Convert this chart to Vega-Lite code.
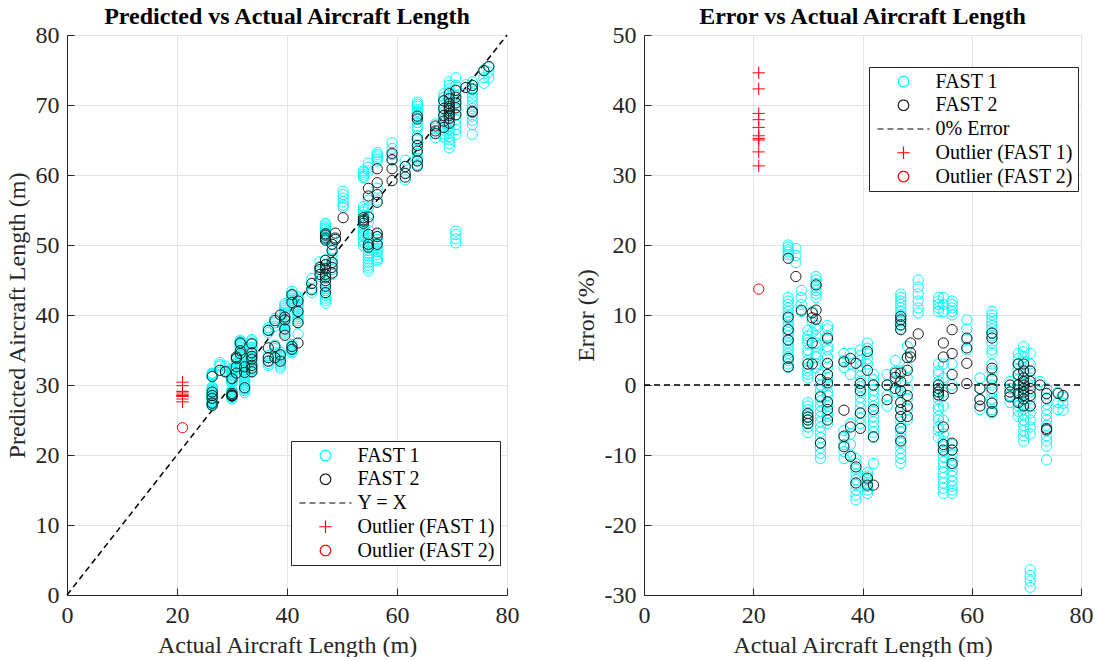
{
"$schema": "https://vega.github.io/schema/vega-lite/v6.json",
"background": "white",
"padding": {"left": 5, "top": 5, "right": 0, "bottom": 0},
"config": {
  "font": "Liberation Serif",
  "view": {"stroke": null},
  "concat": {"spacing": 55},
  "style": {"guide-label": {"font": "Liberation Serif", "fontSize": 24}, "guide-title": {"font": "Liberation Serif", "fontSize": 24}},
  "axis": {"labelFont": "Liberation Serif", "labelFontSize": 24, "labelColor": "#262626", "titleFont": "Liberation Serif", "titleFontSize": 24, "titleFontWeight": "normal", "titleColor": "#262626", "domainColor": "#262626", "tickColor": "#262626", "gridColor": "#e3e3e3", "tickSize": -7, "labelPadding": 15, "titlePadding": 6, "labelFlush": false, "labelOverlap": false, "labelExpr": "replace(datum.label, '\u2212', '-')"},
  "title": {"font": "Liberation Serif", "fontSize": 24, "fontWeight": "bold", "color": "#000000", "anchor": "middle", "offset": -6},
  "legend": {"title": null, "orient": "none", "strokeColor": "#262626", "fillColor": "white", "padding": 4.5, "labelFont": "Liberation Serif", "labelFontSize": 20, "labelColor": "#000000", "symbolSize": 110, "symbolOffset": 20, "labelOffset": 22, "rowPadding": 3.75, "labelLimit": 0, "symbolStrokeWidth": 1.2, "symbolDash": [1, 0]}
},
"datasets": {
  "pts": [
{"a":26.4,"p":31.7,"e":20,"s":"FAST 1"},{"a":26.4,"p":31.5,"e":19.3,"s":"FAST 1"},{"a":26.4,"p":31.3,"e":18.6,"s":"FAST 1"},{"a":26.4,"p":29.7,"e":12.5,"s":"FAST 1"},{"a":26.4,"p":29.4,"e":11.5,"s":"FAST 1"},{"a":26.4,"p":29.2,"e":10.5,"s":"FAST 1"},{"a":26.4,"p":28.9,"e":9.5,"s":"FAST 1"},{"a":26.4,"p":28.6,"e":8.5,"s":"FAST 1"},{"a":26.4,"p":28.4,"e":7.5,"s":"FAST 1"},{"a":26.4,"p":28.1,"e":6.5,"s":"FAST 1"},{"a":26.4,"p":27.9,"e":5.5,"s":"FAST 1"},{"a":26.4,"p":27.6,"e":4.5,"s":"FAST 1"},{"a":26.4,"p":27.3,"e":3.5,"s":"FAST 1"},{"a":26.4,"p":27.1,"e":2.5,"s":"FAST 1"},
{"a":26.4,"p":29.6,"e":12,"s":"FAST 1"},{"a":26.4,"p":29.3,"e":11,"s":"FAST 1"},{"a":26.4,"p":29.0,"e":10,"s":"FAST 1"},{"a":26.4,"p":28.8,"e":9,"s":"FAST 1"},{"a":26.4,"p":28.5,"e":8,"s":"FAST 1"},{"a":26.4,"p":28.2,"e":7,"s":"FAST 1"},{"a":26.4,"p":28.0,"e":6,"s":"FAST 1"},{"a":26.4,"p":27.7,"e":5,"s":"FAST 1"},{"a":26.4,"p":27.5,"e":4,"s":"FAST 1"},{"a":26.4,"p":27.2,"e":3,"s":"FAST 1"},{"a":26.4,"p":31.6,"e":19.7,"s":"FAST 1"},{"a":26.4,"p":31.4,"e":19,"s":"FAST 1"},
{"a":27.8,"p":33.2,"e":19.5,"s":"FAST 1"},{"a":27.8,"p":32.9,"e":18.5,"s":"FAST 1"},{"a":27.8,"p":32.7,"e":17.5,"s":"FAST 1"},
{"a":28.8,"p":32.7,"e":13.5,"s":"FAST 1"},{"a":28.8,"p":32.4,"e":12.5,"s":"FAST 1"},{"a":28.8,"p":32.1,"e":11.5,"s":"FAST 1"},{"a":28.8,"p":31.8,"e":10.5,"s":"FAST 1"},
{"a":30.0,"p":32.3,"e":7.8,"s":"FAST 1"},{"a":30.0,"p":32.0,"e":6.5,"s":"FAST 1"},{"a":30.0,"p":31.5,"e":5,"s":"FAST 1"},{"a":30.0,"p":31.1,"e":3.5,"s":"FAST 1"},{"a":30.0,"p":30.6,"e":2,"s":"FAST 1"},{"a":30.0,"p":30.3,"e":1,"s":"FAST 1"},{"a":30.0,"p":29.3,"e":-2.5,"s":"FAST 1"},{"a":30.0,"p":29.0,"e":-3.5,"s":"FAST 1"},{"a":30.0,"p":28.7,"e":-4.5,"s":"FAST 1"},{"a":30.0,"p":28.4,"e":-5.5,"s":"FAST 1"},{"a":30.0,"p":28.0,"e":-6.8,"s":"FAST 1"},
{"a":30.0,"p":32.1,"e":7,"s":"FAST 1"},{"a":30.0,"p":31.8,"e":6,"s":"FAST 1"},{"a":30.0,"p":31.4,"e":4.5,"s":"FAST 1"},{"a":30.0,"p":30.8,"e":2.5,"s":"FAST 1"},{"a":30.0,"p":30.5,"e":1.5,"s":"FAST 1"},{"a":30.0,"p":29.1,"e":-3,"s":"FAST 1"},{"a":30.0,"p":28.8,"e":-4,"s":"FAST 1"},{"a":30.0,"p":28.5,"e":-5,"s":"FAST 1"},{"a":30.0,"p":28.2,"e":-6,"s":"FAST 1"},
{"a":30.8,"p":34.0,"e":10.5,"s":"FAST 1"},{"a":30.8,"p":33.6,"e":9,"s":"FAST 1"},{"a":30.8,"p":33.1,"e":7.5,"s":"FAST 1"},
{"a":31.5,"p":36.4,"e":15.5,"s":"FAST 1"},{"a":31.5,"p":36.1,"e":14.5,"s":"FAST 1"},{"a":31.5,"p":35.8,"e":13.5,"s":"FAST 1"},{"a":31.5,"p":35.4,"e":12.5,"s":"FAST 1"},{"a":31.5,"p":34.2,"e":8.5,"s":"FAST 1"},{"a":31.5,"p":33.7,"e":7,"s":"FAST 1"},{"a":31.5,"p":33.2,"e":5.5,"s":"FAST 1"},{"a":31.5,"p":32.8,"e":4,"s":"FAST 1"},{"a":31.5,"p":32.3,"e":2.5,"s":"FAST 1"},
{"a":31.5,"p":36.2,"e":15,"s":"FAST 1"},{"a":31.5,"p":35.9,"e":14,"s":"FAST 1"},{"a":31.5,"p":35.6,"e":13,"s":"FAST 1"},{"a":31.5,"p":34.0,"e":8,"s":"FAST 1"},{"a":31.5,"p":33.4,"e":6,"s":"FAST 1"},{"a":31.5,"p":32.9,"e":4.5,"s":"FAST 1"},{"a":31.5,"p":32.4,"e":3,"s":"FAST 1"},
{"a":32.3,"p":32.8,"e":1.5,"s":"FAST 1"},{"a":32.3,"p":32.3,"e":0,"s":"FAST 1"},{"a":32.3,"p":31.8,"e":-1.5,"s":"FAST 1"},{"a":32.3,"p":31.3,"e":-3,"s":"FAST 1"},{"a":32.3,"p":30.8,"e":-4.5,"s":"FAST 1"},{"a":32.3,"p":30.4,"e":-6,"s":"FAST 1"},{"a":32.3,"p":29.9,"e":-7.5,"s":"FAST 1"},{"a":32.3,"p":29.4,"e":-9,"s":"FAST 1"},{"a":32.3,"p":28.9,"e":-10.5,"s":"FAST 1"},
{"a":32.3,"p":32.5,"e":0.75,"s":"FAST 1"},{"a":32.3,"p":32.1,"e":-0.75,"s":"FAST 1"},{"a":32.3,"p":31.6,"e":-2.25,"s":"FAST 1"},{"a":32.3,"p":31.1,"e":-3.75,"s":"FAST 1"},{"a":32.3,"p":30.6,"e":-5.25,"s":"FAST 1"},{"a":32.3,"p":30.1,"e":-6.75,"s":"FAST 1"},{"a":32.3,"p":29.6,"e":-8.25,"s":"FAST 1"},{"a":32.3,"p":29.2,"e":-9.75,"s":"FAST 1"},
{"a":33.6,"p":36.5,"e":8.5,"s":"FAST 1"},{"a":33.6,"p":36.0,"e":7,"s":"FAST 1"},{"a":33.6,"p":35.4,"e":5.5,"s":"FAST 1"},{"a":33.6,"p":34.9,"e":4,"s":"FAST 1"},{"a":33.6,"p":34.4,"e":2.5,"s":"FAST 1"},{"a":33.6,"p":33.9,"e":1,"s":"FAST 1"},{"a":33.6,"p":33.3,"e":-1,"s":"FAST 1"},{"a":33.6,"p":32.8,"e":-2.5,"s":"FAST 1"},{"a":33.6,"p":32.3,"e":-4,"s":"FAST 1"},{"a":33.6,"p":31.8,"e":-5.5,"s":"FAST 1"},
{"a":33.6,"p":36.3,"e":8,"s":"FAST 1"},{"a":33.6,"p":35.8,"e":6.5,"s":"FAST 1"},{"a":33.6,"p":35.3,"e":5,"s":"FAST 1"},{"a":33.6,"p":34.6,"e":3,"s":"FAST 1"},{"a":33.6,"p":34.1,"e":1.5,"s":"FAST 1"},{"a":33.6,"p":33.6,"e":0,"s":"FAST 1"},{"a":33.6,"p":33.1,"e":-1.5,"s":"FAST 1"},{"a":33.6,"p":32.6,"e":-3,"s":"FAST 1"},{"a":33.6,"p":32.1,"e":-4.5,"s":"FAST 1"},
{"a":36.6,"p":38.2,"e":4.5,"s":"FAST 1"},{"a":36.6,"p":37.9,"e":3.5,"s":"FAST 1"},{"a":36.6,"p":37.5,"e":2.5,"s":"FAST 1"},{"a":36.6,"p":34.2,"e":-6.5,"s":"FAST 1"},{"a":36.6,"p":33.9,"e":-7.5,"s":"FAST 1"},{"a":36.6,"p":33.5,"e":-8.5,"s":"FAST 1"},{"a":36.6,"p":33.1,"e":-9.5,"s":"FAST 1"},{"a":36.6,"p":32.8,"e":-10.5,"s":"FAST 1"},
{"a":37.8,"p":39.5,"e":4.5,"s":"FAST 1"},{"a":37.8,"p":38.9,"e":3,"s":"FAST 1"},{"a":37.8,"p":38.4,"e":1.5,"s":"FAST 1"},{"a":37.8,"p":35.7,"e":-5.5,"s":"FAST 1"},{"a":37.8,"p":35.2,"e":-7,"s":"FAST 1"},{"a":37.8,"p":34.6,"e":-8.5,"s":"FAST 1"},{"a":37.8,"p":34.0,"e":-10,"s":"FAST 1"},
{"a":38.8,"p":34.7,"e":-10.5,"s":"FAST 1"},{"a":38.8,"p":34.1,"e":-12,"s":"FAST 1"},{"a":38.8,"p":33.6,"e":-13.5,"s":"FAST 1"},{"a":38.8,"p":33.0,"e":-15,"s":"FAST 1"},{"a":38.8,"p":32.4,"e":-16.4,"s":"FAST 1"},
{"a":38.8,"p":34.4,"e":-11.25,"s":"FAST 1"},{"a":38.8,"p":33.9,"e":-12.75,"s":"FAST 1"},{"a":38.8,"p":33.3,"e":-14.25,"s":"FAST 1"},{"a":38.8,"p":32.7,"e":-15.75,"s":"FAST 1"},
{"a":39.6,"p":41.6,"e":5,"s":"FAST 1"},{"a":39.6,"p":41.0,"e":3.5,"s":"FAST 1"},{"a":39.6,"p":40.4,"e":2,"s":"FAST 1"},{"a":39.6,"p":39.8,"e":0.5,"s":"FAST 1"},{"a":39.6,"p":39.2,"e":-1,"s":"FAST 1"},{"a":39.6,"p":38.6,"e":-2.5,"s":"FAST 1"},{"a":39.6,"p":38.0,"e":-4,"s":"FAST 1"},{"a":39.6,"p":37.4,"e":-5.5,"s":"FAST 1"},
{"a":39.6,"p":41.3,"e":4.25,"s":"FAST 1"},{"a":39.6,"p":40.7,"e":2.75,"s":"FAST 1"},{"a":39.6,"p":40.1,"e":1.25,"s":"FAST 1"},{"a":39.6,"p":39.5,"e":-0.25,"s":"FAST 1"},{"a":39.6,"p":38.9,"e":-1.75,"s":"FAST 1"},{"a":39.6,"p":38.3,"e":-3.25,"s":"FAST 1"},{"a":39.6,"p":37.7,"e":-4.75,"s":"FAST 1"},
{"a":40.9,"p":43.4,"e":6,"s":"FAST 1"},{"a":40.9,"p":42.7,"e":4.5,"s":"FAST 1"},{"a":40.9,"p":42.1,"e":3,"s":"FAST 1"},{"a":40.9,"p":35.8,"e":-12.5,"s":"FAST 1"},{"a":40.9,"p":35.4,"e":-13.5,"s":"FAST 1"},{"a":40.9,"p":35.0,"e":-14.5,"s":"FAST 1"},{"a":40.9,"p":34.6,"e":-15.5,"s":"FAST 1"},
{"a":40.9,"p":35.6,"e":-13,"s":"FAST 1"},{"a":40.9,"p":35.2,"e":-14,"s":"FAST 1"},{"a":40.9,"p":34.8,"e":-15,"s":"FAST 1"},{"a":40.9,"p":43.0,"e":5.25,"s":"FAST 1"},{"a":40.9,"p":42.4,"e":3.75,"s":"FAST 1"},
{"a":42.0,"p":42.6,"e":1.5,"s":"FAST 1"},{"a":42.0,"p":42.0,"e":0,"s":"FAST 1"},{"a":42.0,"p":41.4,"e":-1.5,"s":"FAST 1"},{"a":42.0,"p":40.7,"e":-3,"s":"FAST 1"},{"a":42.0,"p":40.1,"e":-4.5,"s":"FAST 1"},{"a":42.0,"p":39.5,"e":-6,"s":"FAST 1"},{"a":42.0,"p":38.9,"e":-7.5,"s":"FAST 1"},{"a":42.0,"p":37.3,"e":-11.2,"s":"FAST 1"},
{"a":42.0,"p":42.3,"e":0.75,"s":"FAST 1"},{"a":42.0,"p":41.7,"e":-0.75,"s":"FAST 1"},{"a":42.0,"p":41.1,"e":-2.25,"s":"FAST 1"},{"a":42.0,"p":40.4,"e":-3.75,"s":"FAST 1"},{"a":42.0,"p":39.8,"e":-5.25,"s":"FAST 1"},{"a":42.0,"p":39.2,"e":-6.75,"s":"FAST 1"},
{"a":44.5,"p":45.2,"e":1.5,"s":"FAST 1"},{"a":44.5,"p":44.5,"e":0,"s":"FAST 1"},{"a":44.5,"p":43.8,"e":-1.5,"s":"FAST 1"},{"a":44.5,"p":43.2,"e":-3,"s":"FAST 1"},
{"a":46.0,"p":47.6,"e":3.5,"s":"FAST 1"},{"a":46.0,"p":46.9,"e":2,"s":"FAST 1"},{"a":46.0,"p":46.2,"e":0.5,"s":"FAST 1"},{"a":46.0,"p":45.5,"e":-1,"s":"FAST 1"},
{"a":47.0,"p":53.1,"e":13,"s":"FAST 1"},{"a":47.0,"p":52.6,"e":12,"s":"FAST 1"},{"a":47.0,"p":52.2,"e":11,"s":"FAST 1"},{"a":47.0,"p":51.7,"e":10,"s":"FAST 1"},{"a":47.0,"p":51.2,"e":9,"s":"FAST 1"},{"a":47.0,"p":50.8,"e":8,"s":"FAST 1"},{"a":47.0,"p":44.9,"e":-4.5,"s":"FAST 1"},{"a":47.0,"p":44.2,"e":-6,"s":"FAST 1"},{"a":47.0,"p":43.5,"e":-7.5,"s":"FAST 1"},{"a":47.0,"p":42.8,"e":-9,"s":"FAST 1"},{"a":47.0,"p":42.1,"e":-10.5,"s":"FAST 1"},{"a":47.0,"p":41.7,"e":-11.2,"s":"FAST 1"},
{"a":47.0,"p":52.9,"e":12.5,"s":"FAST 1"},{"a":47.0,"p":52.4,"e":11.5,"s":"FAST 1"},{"a":47.0,"p":51.9,"e":10.5,"s":"FAST 1"},{"a":47.0,"p":51.5,"e":9.5,"s":"FAST 1"},{"a":47.0,"p":51.0,"e":8.5,"s":"FAST 1"},{"a":47.0,"p":44.5,"e":-5.25,"s":"FAST 1"},{"a":47.0,"p":43.8,"e":-6.75,"s":"FAST 1"},{"a":47.0,"p":43.1,"e":-8.25,"s":"FAST 1"},{"a":47.0,"p":42.4,"e":-9.75,"s":"FAST 1"},{"a":47.0,"p":47.9,"e":2,"s":"FAST 1"},{"a":47.0,"p":47.2,"e":0.5,"s":"FAST 1"},{"a":47.0,"p":46.5,"e":-1,"s":"FAST 1"},{"a":47.0,"p":45.8,"e":-2.5,"s":"FAST 1"},{"a":47.0,"p":45.4,"e":-3.5,"s":"FAST 1"},
{"a":48.2,"p":50.9,"e":5.5,"s":"FAST 1"},{"a":48.2,"p":50.1,"e":4,"s":"FAST 1"},{"a":48.2,"p":49.4,"e":2.5,"s":"FAST 1"},{"a":48.2,"p":48.7,"e":1,"s":"FAST 1"},{"a":48.2,"p":48.0,"e":-0.5,"s":"FAST 1"},{"a":48.2,"p":47.2,"e":-2,"s":"FAST 1"},{"a":48.2,"p":46.5,"e":-3.5,"s":"FAST 1"},{"a":48.2,"p":45.8,"e":-5,"s":"FAST 1"},
{"a":50.2,"p":57.7,"e":15,"s":"FAST 1"},{"a":50.2,"p":57.2,"e":14,"s":"FAST 1"},{"a":50.2,"p":56.7,"e":13,"s":"FAST 1"},{"a":50.2,"p":56.2,"e":12,"s":"FAST 1"},{"a":50.2,"p":55.7,"e":11,"s":"FAST 1"},{"a":50.2,"p":55.4,"e":10.3,"s":"FAST 1"},
{"a":53.9,"p":60.6,"e":12.5,"s":"FAST 1"},{"a":53.9,"p":60.1,"e":11.5,"s":"FAST 1"},{"a":53.9,"p":59.6,"e":10.5,"s":"FAST 1"},{"a":53.9,"p":55.5,"e":3,"s":"FAST 1"},{"a":53.9,"p":54.7,"e":1.5,"s":"FAST 1"},{"a":53.9,"p":53.9,"e":0,"s":"FAST 1"},{"a":53.9,"p":53.1,"e":-1.5,"s":"FAST 1"},{"a":53.9,"p":52.3,"e":-3,"s":"FAST 1"},{"a":53.9,"p":51.5,"e":-4.5,"s":"FAST 1"},{"a":53.9,"p":50.7,"e":-6,"s":"FAST 1"},{"a":53.9,"p":49.9,"e":-7.5,"s":"FAST 1"},
{"a":53.9,"p":60.4,"e":12,"s":"FAST 1"},{"a":53.9,"p":59.8,"e":11,"s":"FAST 1"},{"a":53.9,"p":55.0,"e":2,"s":"FAST 1"},{"a":53.9,"p":54.2,"e":0.5,"s":"FAST 1"},{"a":53.9,"p":53.4,"e":-1,"s":"FAST 1"},{"a":53.9,"p":52.8,"e":-2,"s":"FAST 1"},{"a":53.9,"p":52.0,"e":-3.5,"s":"FAST 1"},{"a":53.9,"p":51.2,"e":-5,"s":"FAST 1"},{"a":53.9,"p":50.4,"e":-6.5,"s":"FAST 1"},
{"a":54.8,"p":61.7,"e":12.5,"s":"FAST 1"},{"a":54.8,"p":61.1,"e":11.5,"s":"FAST 1"},{"a":54.8,"p":60.6,"e":10.5,"s":"FAST 1"},{"a":54.8,"p":50.4,"e":-8,"s":"FAST 1"},{"a":54.8,"p":49.6,"e":-9.5,"s":"FAST 1"},{"a":54.8,"p":48.8,"e":-11,"s":"FAST 1"},{"a":54.8,"p":48.0,"e":-12.5,"s":"FAST 1"},{"a":54.8,"p":47.1,"e":-14,"s":"FAST 1"},{"a":54.8,"p":46.3,"e":-15.5,"s":"FAST 1"},
{"a":54.8,"p":50.0,"e":-8.75,"s":"FAST 1"},{"a":54.8,"p":49.2,"e":-10.25,"s":"FAST 1"},{"a":54.8,"p":48.4,"e":-11.75,"s":"FAST 1"},{"a":54.8,"p":47.5,"e":-13.25,"s":"FAST 1"},{"a":54.8,"p":46.7,"e":-14.75,"s":"FAST 1"},{"a":54.8,"p":56.4,"e":3,"s":"FAST 1"},{"a":54.8,"p":55.3,"e":1,"s":"FAST 1"},{"a":54.8,"p":54.3,"e":-1,"s":"FAST 1"},{"a":54.8,"p":53.2,"e":-3,"s":"FAST 1"},{"a":54.8,"p":52.1,"e":-5,"s":"FAST 1"},{"a":54.8,"p":51.0,"e":-7,"s":"FAST 1"},
{"a":56.4,"p":63.2,"e":12,"s":"FAST 1"},{"a":56.4,"p":62.6,"e":11,"s":"FAST 1"},{"a":56.4,"p":62.0,"e":10,"s":"FAST 1"},{"a":56.4,"p":51.6,"e":-8.5,"s":"FAST 1"},{"a":56.4,"p":50.8,"e":-10,"s":"FAST 1"},{"a":56.4,"p":49.9,"e":-11.5,"s":"FAST 1"},{"a":56.4,"p":49.1,"e":-13,"s":"FAST 1"},{"a":56.4,"p":48.2,"e":-14.5,"s":"FAST 1"},{"a":56.4,"p":47.7,"e":-15.5,"s":"FAST 1"},
{"a":56.4,"p":51.2,"e":-9.25,"s":"FAST 1"},{"a":56.4,"p":50.3,"e":-10.75,"s":"FAST 1"},{"a":56.4,"p":49.5,"e":-12.25,"s":"FAST 1"},{"a":56.4,"p":48.6,"e":-13.75,"s":"FAST 1"},{"a":56.4,"p":47.9,"e":-15,"s":"FAST 1"},{"a":56.4,"p":62.9,"e":11.5,"s":"FAST 1"},{"a":56.4,"p":62.3,"e":10.5,"s":"FAST 1"},{"a":56.4,"p":58.1,"e":3,"s":"FAST 1"},{"a":56.4,"p":56.4,"e":0,"s":"FAST 1"},
{"a":59.1,"p":64.6,"e":9.3,"s":"FAST 1"},{"a":59.1,"p":63.8,"e":8,"s":"FAST 1"},{"a":59.1,"p":62.9,"e":6.5,"s":"FAST 1"},{"a":59.1,"p":62.1,"e":5,"s":"FAST 1"},
{"a":61.5,"p":62.1,"e":1,"s":"FAST 1"},{"a":61.5,"p":61.2,"e":-0.5,"s":"FAST 1"},{"a":61.5,"p":60.3,"e":-2,"s":"FAST 1"},{"a":61.5,"p":59.3,"e":-3.5,"s":"FAST 1"},
{"a":63.7,"p":70.4,"e":10.5,"s":"FAST 1"},{"a":63.7,"p":69.8,"e":9.5,"s":"FAST 1"},{"a":63.7,"p":69.1,"e":8.5,"s":"FAST 1"},{"a":63.7,"p":68.5,"e":7.5,"s":"FAST 1"},{"a":63.7,"p":67.5,"e":6,"s":"FAST 1"},{"a":63.7,"p":66.6,"e":4.5,"s":"FAST 1"},{"a":63.7,"p":65.6,"e":3,"s":"FAST 1"},{"a":63.7,"p":64.3,"e":1,"s":"FAST 1"},{"a":63.7,"p":63.1,"e":-1,"s":"FAST 1"},{"a":63.7,"p":62.1,"e":-2.5,"s":"FAST 1"},{"a":63.7,"p":61.2,"e":-4,"s":"FAST 1"},
{"a":63.7,"p":70.1,"e":10,"s":"FAST 1"},{"a":63.7,"p":69.4,"e":9,"s":"FAST 1"},{"a":63.7,"p":68.8,"e":8,"s":"FAST 1"},{"a":63.7,"p":68.2,"e":7,"s":"FAST 1"},{"a":63.7,"p":66.9,"e":5,"s":"FAST 1"},{"a":63.7,"p":65.0,"e":2,"s":"FAST 1"},{"a":63.7,"p":63.7,"e":0,"s":"FAST 1"},{"a":63.7,"p":62.4,"e":-2,"s":"FAST 1"},{"a":63.7,"p":61.5,"e":-3.5,"s":"FAST 1"},
{"a":67.0,"p":67.3,"e":0.5,"s":"FAST 1"},{"a":67.0,"p":66.7,"e":-0.5,"s":"FAST 1"},{"a":67.0,"p":66.0,"e":-1.5,"s":"FAST 1"},{"a":67.0,"p":65.3,"e":-2.5,"s":"FAST 1"},
{"a":68.5,"p":71.6,"e":4.5,"s":"FAST 1"},{"a":68.5,"p":70.6,"e":3,"s":"FAST 1"},{"a":68.5,"p":69.5,"e":1.5,"s":"FAST 1"},{"a":68.5,"p":68.5,"e":0,"s":"FAST 1"},{"a":68.5,"p":67.5,"e":-1.5,"s":"FAST 1"},{"a":68.5,"p":66.4,"e":-3,"s":"FAST 1"},{"a":68.5,"p":65.4,"e":-4.5,"s":"FAST 1"},
{"a":68.5,"p":71.1,"e":3.75,"s":"FAST 1"},{"a":68.5,"p":70.0,"e":2.25,"s":"FAST 1"},{"a":68.5,"p":69.0,"e":0.75,"s":"FAST 1"},{"a":68.5,"p":68.0,"e":-0.75,"s":"FAST 1"},{"a":68.5,"p":67.0,"e":-2.25,"s":"FAST 1"},{"a":68.5,"p":65.9,"e":-3.75,"s":"FAST 1"},
{"a":69.5,"p":73.3,"e":5.5,"s":"FAST 1"},{"a":69.5,"p":72.3,"e":4,"s":"FAST 1"},{"a":69.5,"p":71.2,"e":2.5,"s":"FAST 1"},{"a":69.5,"p":70.2,"e":1,"s":"FAST 1"},{"a":69.5,"p":69.2,"e":-0.5,"s":"FAST 1"},{"a":69.5,"p":68.1,"e":-2,"s":"FAST 1"},{"a":69.5,"p":67.1,"e":-3.5,"s":"FAST 1"},{"a":69.5,"p":66.0,"e":-5,"s":"FAST 1"},{"a":69.5,"p":65.0,"e":-6.5,"s":"FAST 1"},{"a":69.5,"p":63.9,"e":-8,"s":"FAST 1"},
{"a":69.5,"p":72.8,"e":4.75,"s":"FAST 1"},{"a":69.5,"p":71.8,"e":3.25,"s":"FAST 1"},{"a":69.5,"p":70.7,"e":1.75,"s":"FAST 1"},{"a":69.5,"p":69.7,"e":0.25,"s":"FAST 1"},{"a":69.5,"p":68.6,"e":-1.25,"s":"FAST 1"},{"a":69.5,"p":67.6,"e":-2.75,"s":"FAST 1"},{"a":69.5,"p":66.5,"e":-4.25,"s":"FAST 1"},{"a":69.5,"p":65.5,"e":-5.75,"s":"FAST 1"},{"a":69.5,"p":64.5,"e":-7.25,"s":"FAST 1"},
{"a":70.7,"p":52.0,"e":-26.4,"s":"FAST 1"},{"a":70.7,"p":51.5,"e":-27.2,"s":"FAST 1"},{"a":70.7,"p":50.9,"e":-28,"s":"FAST 1"},{"a":70.7,"p":50.3,"e":-28.9,"s":"FAST 1"},{"a":70.7,"p":73.9,"e":4.5,"s":"FAST 1"},{"a":70.7,"p":72.8,"e":3,"s":"FAST 1"},{"a":70.7,"p":71.4,"e":1,"s":"FAST 1"},{"a":70.7,"p":70.0,"e":-1,"s":"FAST 1"},{"a":70.7,"p":68.6,"e":-3,"s":"FAST 1"},{"a":70.7,"p":67.2,"e":-5,"s":"FAST 1"},{"a":70.7,"p":65.8,"e":-7,"s":"FAST 1"},
{"a":70.7,"p":72.1,"e":2,"s":"FAST 1"},{"a":70.7,"p":70.7,"e":0,"s":"FAST 1"},{"a":70.7,"p":69.3,"e":-2,"s":"FAST 1"},{"a":70.7,"p":67.9,"e":-4,"s":"FAST 1"},{"a":70.7,"p":66.5,"e":-6,"s":"FAST 1"},
{"a":72.5,"p":72.9,"e":0.5,"s":"FAST 1"},
{"a":73.7,"p":73.3,"e":-0.5,"s":"FAST 1"},{"a":73.7,"p":72.2,"e":-2,"s":"FAST 1"},{"a":73.7,"p":71.1,"e":-3.5,"s":"FAST 1"},{"a":73.7,"p":70.0,"e":-5,"s":"FAST 1"},{"a":73.7,"p":68.9,"e":-6.5,"s":"FAST 1"},{"a":73.7,"p":67.8,"e":-8,"s":"FAST 1"},{"a":73.7,"p":65.8,"e":-10.7,"s":"FAST 1"},
{"a":73.7,"p":72.8,"e":-1.25,"s":"FAST 1"},{"a":73.7,"p":71.7,"e":-2.75,"s":"FAST 1"},{"a":73.7,"p":70.6,"e":-4.25,"s":"FAST 1"},{"a":73.7,"p":69.5,"e":-5.75,"s":"FAST 1"},{"a":73.7,"p":68.4,"e":-7.25,"s":"FAST 1"},{"a":73.7,"p":67.2,"e":-8.75,"s":"FAST 1"},
{"a":75.8,"p":75.0,"e":-1,"s":"FAST 1"},{"a":75.8,"p":73.9,"e":-2.5,"s":"FAST 1"},{"a":75.8,"p":73.1,"e":-3.5,"s":"FAST 1"},
{"a":76.7,"p":75.4,"e":-1.7,"s":"FAST 1"},{"a":76.7,"p":74.7,"e":-2.6,"s":"FAST 1"},{"a":76.7,"p":73.9,"e":-3.6,"s":"FAST 1"},
{"a":26.4,"p":31.2,"e":18.1,"s":"FAST 2"},{"a":26.4,"p":29.0,"e":9.7,"s":"FAST 2"},{"a":26.4,"p":28.5,"e":7.9,"s":"FAST 2"},{"a":26.4,"p":28.1,"e":6.4,"s":"FAST 2"},{"a":26.4,"p":27.4,"e":3.8,"s":"FAST 2"},{"a":26.4,"p":27.1,"e":2.6,"s":"FAST 2"},
{"a":27.8,"p":32.1,"e":15.5,"s":"FAST 2"},
{"a":28.8,"p":31.9,"e":10.7,"s":"FAST 2"},
{"a":30.0,"p":30.9,"e":3,"s":"FAST 2"},{"a":30.0,"p":28.8,"e":-4.1,"s":"FAST 2"},{"a":30.0,"p":28.6,"e":-4.6,"s":"FAST 2"},{"a":30.0,"p":28.5,"e":-5,"s":"FAST 2"},{"a":30.0,"p":28.4,"e":-5.5,"s":"FAST 2"},
{"a":30.8,"p":34.0,"e":10.3,"s":"FAST 2"},{"a":30.8,"p":33.8,"e":9.6,"s":"FAST 2"},{"a":30.8,"p":32.6,"e":6,"s":"FAST 2"},{"a":30.8,"p":31.7,"e":3,"s":"FAST 2"},
{"a":31.5,"p":36.0,"e":14.3,"s":"FAST 2"},{"a":31.5,"p":34.5,"e":9.4,"s":"FAST 2"},{"a":31.5,"p":34.9,"e":10.7,"s":"FAST 2"},
{"a":32.3,"p":32.6,"e":0.8,"s":"FAST 2"},{"a":32.3,"p":31.8,"e":-1.7,"s":"FAST 2"},{"a":32.3,"p":29.6,"e":-8.3,"s":"FAST 2"},
{"a":33.6,"p":35.9,"e":6.7,"s":"FAST 2"},{"a":33.6,"p":34.6,"e":3.1,"s":"FAST 2"},{"a":33.6,"p":34.1,"e":1.5,"s":"FAST 2"},{"a":33.6,"p":33.7,"e":0.3,"s":"FAST 2"},{"a":33.6,"p":32.8,"e":-2.4,"s":"FAST 2"},{"a":33.6,"p":32.4,"e":-3.5,"s":"FAST 2"},{"a":33.6,"p":31.9,"e":-5,"s":"FAST 2"},
{"a":36.6,"p":37.8,"e":3.3,"s":"FAST 2"},{"a":36.6,"p":35.3,"e":-3.6,"s":"FAST 2"},{"a":36.6,"p":33.9,"e":-7.3,"s":"FAST 2"},{"a":36.6,"p":33.4,"e":-8.8,"s":"FAST 2"},
{"a":37.8,"p":39.2,"e":3.8,"s":"FAST 2"},{"a":37.8,"p":35.5,"e":-6,"s":"FAST 2"},{"a":37.8,"p":33.9,"e":-10.2,"s":"FAST 2"},
{"a":38.8,"p":40.0,"e":3.1,"s":"FAST 2"},{"a":38.8,"p":34.3,"e":-11.7,"s":"FAST 2"},{"a":38.8,"p":33.4,"e":-14,"s":"FAST 2"},
{"a":39.6,"p":39.7,"e":0.2,"s":"FAST 2"},{"a":39.6,"p":39.3,"e":-0.8,"s":"FAST 2"},{"a":39.6,"p":38.0,"e":-4,"s":"FAST 2"},{"a":39.6,"p":37.1,"e":-6.2,"s":"FAST 2"},
{"a":40.9,"p":42.9,"e":4.8,"s":"FAST 2"},{"a":40.9,"p":41.8,"e":2.1,"s":"FAST 2"},{"a":40.9,"p":35.5,"e":-13.3,"s":"FAST 2"},{"a":40.9,"p":35.1,"e":-14.3,"s":"FAST 2"},
{"a":42.0,"p":42.0,"e":0,"s":"FAST 2"},{"a":42.0,"p":40.5,"e":-3.5,"s":"FAST 2"},{"a":42.0,"p":38.9,"e":-7.4,"s":"FAST 2"},{"a":42.0,"p":36.0,"e":-14.3,"s":"FAST 2"},
{"a":44.5,"p":44.5,"e":0,"s":"FAST 2"},{"a":44.5,"p":43.6,"e":-2.1,"s":"FAST 2"},
{"a":46.0,"p":46.8,"e":1.7,"s":"FAST 2"},{"a":46.0,"p":46.5,"e":1.1,"s":"FAST 2"},{"a":46.0,"p":45.8,"e":-0.5,"s":"FAST 2"},
{"a":47.0,"p":51.6,"e":9.8,"s":"FAST 2"},{"a":47.0,"p":51.4,"e":9.3,"s":"FAST 2"},{"a":47.0,"p":51.0,"e":8.6,"s":"FAST 2"},{"a":47.0,"p":50.7,"e":7.9,"s":"FAST 2"},{"a":47.0,"p":47.8,"e":1.7,"s":"FAST 2"},{"a":47.0,"p":47.2,"e":0.5,"s":"FAST 2"},{"a":47.0,"p":46.6,"e":-0.8,"s":"FAST 2"},{"a":47.0,"p":45.8,"e":-2.5,"s":"FAST 2"},{"a":47.0,"p":45.4,"e":-3.5,"s":"FAST 2"},{"a":47.0,"p":44.9,"e":-4.5,"s":"FAST 2"},{"a":47.0,"p":44.1,"e":-6.2,"s":"FAST 2"},{"a":47.0,"p":43.2,"e":-8,"s":"FAST 2"},
{"a":48.2,"p":50.1,"e":3.9,"s":"FAST 2"},{"a":48.2,"p":49.2,"e":2.1,"s":"FAST 2"},{"a":48.2,"p":47.5,"e":-1.5,"s":"FAST 2"},{"a":48.2,"p":46.8,"e":-3,"s":"FAST 2"},{"a":48.2,"p":46.0,"e":-4.5,"s":"FAST 2"},
{"a":48.8,"p":51.7,"e":6,"s":"FAST 2"},{"a":48.8,"p":51.0,"e":4.6,"s":"FAST 2"},{"a":48.8,"p":50.8,"e":4,"s":"FAST 2"},
{"a":50.2,"p":53.9,"e":7.3,"s":"FAST 2"},
{"a":53.9,"p":53.9,"e":0,"s":"FAST 2"},{"a":53.9,"p":53.6,"e":-0.5,"s":"FAST 2"},{"a":53.9,"p":53.4,"e":-1,"s":"FAST 2"},{"a":53.9,"p":53.1,"e":-1.4,"s":"FAST 2"},
{"a":54.8,"p":58.1,"e":6,"s":"FAST 2"},{"a":54.8,"p":57.0,"e":4,"s":"FAST 2"},{"a":54.8,"p":54.0,"e":-1.5,"s":"FAST 2"},{"a":54.8,"p":51.5,"e":-6,"s":"FAST 2"},{"a":54.8,"p":50.1,"e":-8.5,"s":"FAST 2"},{"a":54.8,"p":49.7,"e":-9.3,"s":"FAST 2"},
{"a":56.4,"p":60.9,"e":7.9,"s":"FAST 2"},{"a":56.4,"p":58.9,"e":4.5,"s":"FAST 2"},{"a":56.4,"p":57.2,"e":1.5,"s":"FAST 2"},{"a":56.4,"p":56.1,"e":-0.5,"s":"FAST 2"},{"a":56.4,"p":51.7,"e":-8.3,"s":"FAST 2"},{"a":56.4,"p":51.2,"e":-9.3,"s":"FAST 2"},{"a":56.4,"p":50.1,"e":-11.2,"s":"FAST 2"},
{"a":59.1,"p":63.1,"e":6.7,"s":"FAST 2"},{"a":59.1,"p":62.2,"e":5.3,"s":"FAST 2"},{"a":59.1,"p":60.9,"e":3.1,"s":"FAST 2"},{"a":59.1,"p":59.2,"e":0.2,"s":"FAST 2"},
{"a":61.5,"p":61.2,"e":-0.5,"s":"FAST 2"},{"a":61.5,"p":60.2,"e":-2.1,"s":"FAST 2"},{"a":61.5,"p":59.7,"e":-3,"s":"FAST 2"},
{"a":63.7,"p":68.4,"e":7.4,"s":"FAST 2"},{"a":63.7,"p":68.0,"e":6.7,"s":"FAST 2"},{"a":63.7,"p":65.2,"e":2.4,"s":"FAST 2"},{"a":63.7,"p":64.2,"e":0.8,"s":"FAST 2"},{"a":63.7,"p":63.4,"e":-0.5,"s":"FAST 2"},{"a":63.7,"p":62.0,"e":-2.6,"s":"FAST 2"},{"a":63.7,"p":61.3,"e":-3.8,"s":"FAST 2"},
{"a":67.0,"p":67.0,"e":0,"s":"FAST 2"},{"a":67.0,"p":66.3,"e":-1,"s":"FAST 2"},{"a":67.0,"p":65.9,"e":-1.7,"s":"FAST 2"},
{"a":68.5,"p":70.6,"e":3,"s":"FAST 2"},{"a":68.5,"p":69.5,"e":1.5,"s":"FAST 2"},{"a":68.5,"p":68.5,"e":0,"s":"FAST 2"},{"a":68.5,"p":67.7,"e":-1.2,"s":"FAST 2"},{"a":68.5,"p":66.8,"e":-2.5,"s":"FAST 2"},
{"a":69.5,"p":71.6,"e":3,"s":"FAST 2"},{"a":69.5,"p":70.9,"e":2,"s":"FAST 2"},{"a":69.5,"p":70.2,"e":1,"s":"FAST 2"},{"a":69.5,"p":69.8,"e":0.5,"s":"FAST 2"},{"a":69.5,"p":69.5,"e":0,"s":"FAST 2"},{"a":69.5,"p":69.2,"e":-0.5,"s":"FAST 2"},{"a":69.5,"p":68.8,"e":-1,"s":"FAST 2"},{"a":69.5,"p":68.5,"e":-1.5,"s":"FAST 2"},{"a":69.5,"p":68.1,"e":-2,"s":"FAST 2"},{"a":69.5,"p":67.4,"e":-3,"s":"FAST 2"},
{"a":70.7,"p":72.1,"e":2,"s":"FAST 2"},{"a":70.7,"p":71.1,"e":0.5,"s":"FAST 2"},{"a":70.7,"p":70.3,"e":-0.5,"s":"FAST 2"},{"a":70.7,"p":69.6,"e":-1.5,"s":"FAST 2"},{"a":70.7,"p":68.6,"e":-3,"s":"FAST 2"},
{"a":72.5,"p":72.5,"e":0,"s":"FAST 2"},
{"a":73.7,"p":72.8,"e":-1.2,"s":"FAST 2"},{"a":73.7,"p":72.3,"e":-1.9,"s":"FAST 2"},{"a":73.7,"p":69.1,"e":-6.2,"s":"FAST 2"},{"a":73.7,"p":69.0,"e":-6.4,"s":"FAST 2"},
{"a":75.8,"p":74.9,"e":-1.2,"s":"FAST 2"},
{"a":76.7,"p":75.5,"e":-1.5,"s":"FAST 2"},
{"a":21.0,"p":30.4,"e":44.6,"s":"Outlier (FAST 1)"},{"a":21.0,"p":29.9,"e":42.3,"s":"Outlier (FAST 1)"},{"a":21.0,"p":29.1,"e":38.8,"s":"Outlier (FAST 1)"},{"a":21.0,"p":29.0,"e":37.9,"s":"Outlier (FAST 1)"},{"a":21.0,"p":28.7,"e":36.8,"s":"Outlier (FAST 1)"},{"a":21.0,"p":28.5,"e":35.6,"s":"Outlier (FAST 1)"},{"a":21.0,"p":28.4,"e":35.2,"s":"Outlier (FAST 1)"},{"a":21.0,"p":28.4,"e":35.0,"s":"Outlier (FAST 1)"},{"a":21.0,"p":28.0,"e":33.3,"s":"Outlier (FAST 1)"},{"a":21.0,"p":27.6,"e":31.3,"s":"Outlier (FAST 1)"},
{"a":21.0,"p":23.9,"e":13.7,"s":"Outlier (FAST 2)"}
  ],
  "l1": [{"a":0,"p":0,"s":"Y = X"},{"a":80,"p":80,"s":"Y = X"}],
  "l2": [{"a":0,"e":0,"s":"0% Error"},{"a":80,"e":0,"s":"0% Error"}]
},
"hconcat": [
  {
    "width": 440, "height": 560,
    "title": "Predicted vs Actual Aircraft Length",
    "layer": [
      {
        "data": {"name": "l1"},
        "mark": {"type": "line", "strokeDash": [6, 4], "strokeWidth": 1.5},
        "encoding": {
          "x": {"field": "a", "type": "quantitative", "scale": {"domain": [0, 80], "nice": false}, "axis": {"values": [0, 20, 40, 60, 80], "title": "Actual Aircraft Length (m)", "labelFont": "Liberation Serif"}},
          "y": {"field": "p", "type": "quantitative", "scale": {"domain": [0, 80], "nice": false}, "axis": {"values": [0, 10, 20, 30, 40, 50, 60, 70, 80], "title": "Predicted Aircraft Length (m)", "labelFont": "Liberation Serif"}},
          "color": {"field": "s", "type": "nominal", "scale": {"domain": ["FAST 1", "FAST 2", "Y = X", "Outlier (FAST 1)", "Outlier (FAST 2)"], "range": ["#00ffff", "#1a1a1a", "#000000", "#ff0000", "#ff0000"]}, "legend": {"legendX": 224, "legendY": 406}}
        }
      },
      {
        "data": {"name": "pts"},
        "mark": {"type": "point", "filled": false, "size": 105, "strokeWidth": 1, "opacity": 1},
        "encoding": {
          "x": {"field": "a", "type": "quantitative"},
          "y": {"field": "p", "type": "quantitative"},
          "shape": {"field": "s", "type": "nominal", "scale": {"domain": ["FAST 1", "FAST 2", "Y = X", "Outlier (FAST 1)", "Outlier (FAST 2)"], "range": ["circle", "circle", "M-4.96,0H-3.82M-3.06,0H-1.92M-1.16,0H-0.02M0.74,0H1.88M2.64,0H3.78M4.54,0H4.96", "M-1.2,0H1.2M0,-1.2V1.2", "circle"]}, "legend": {"legendX": 224, "legendY": 406}},
          "color": {"field": "s", "type": "nominal", "legend": {"legendX": 224, "legendY": 406}}
        }
      }
    ]
  },
  {
    "width": 437, "height": 560,
    "title": "Error vs Actual Aircraft Length",
    "layer": [
      {
        "data": {"name": "l2"},
        "mark": {"type": "line", "strokeDash": [6, 4], "strokeWidth": 1.5},
        "encoding": {
          "x": {"field": "a", "type": "quantitative", "scale": {"domain": [0, 80], "nice": false}, "axis": {"values": [0, 20, 40, 60, 80], "title": "Actual Aircraft Length (m)", "labelFont": "Liberation Serif"}},
          "y": {"field": "e", "type": "quantitative", "scale": {"domain": [-30, 50], "nice": false}, "axis": {"values": [-30, -20, -10, 0, 10, 20, 30, 40, 50], "title": "Error (%)", "labelFont": "Liberation Serif"}},
          "color": {"field": "s", "type": "nominal", "scale": {"domain": ["FAST 1", "FAST 2", "0% Error", "Outlier (FAST 1)", "Outlier (FAST 2)"], "range": ["#00ffff", "#1a1a1a", "#000000", "#ff0000", "#ff0000"]}, "legend": {"legendX": 225, "legendY": 32}}
        }
      },
      {
        "data": {"name": "pts"},
        "mark": {"type": "point", "filled": false, "size": 105, "strokeWidth": 1, "opacity": 1},
        "encoding": {
          "x": {"field": "a", "type": "quantitative"},
          "y": {"field": "e", "type": "quantitative"},
          "shape": {"field": "s", "type": "nominal", "scale": {"domain": ["FAST 1", "FAST 2", "0% Error", "Outlier (FAST 1)", "Outlier (FAST 2)"], "range": ["circle", "circle", "M-4.96,0H-3.82M-3.06,0H-1.92M-1.16,0H-0.02M0.74,0H1.88M2.64,0H3.78M4.54,0H4.96", "M-1.2,0H1.2M0,-1.2V1.2", "circle"]}, "legend": {"legendX": 225, "legendY": 32}},
          "color": {"field": "s", "type": "nominal", "legend": {"legendX": 225, "legendY": 32}}
        }
      }
    ]
  }
],
"resolve": {"scale": {"color": "independent", "shape": "independent"}}
}
